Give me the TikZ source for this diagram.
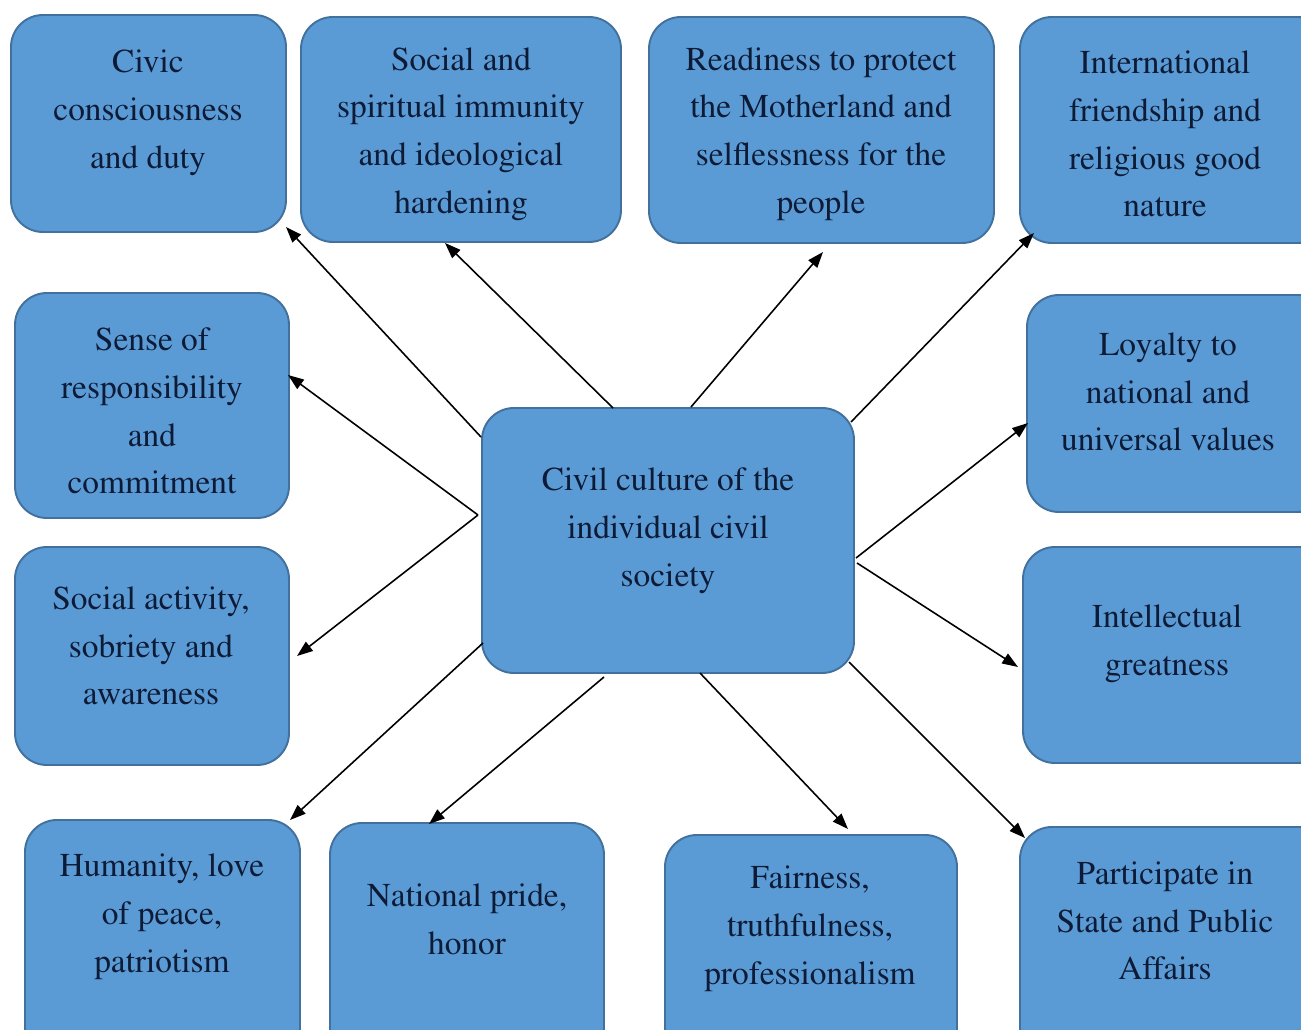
\documentclass[tikz,border=0pt]{standalone}
\usepackage[T1]{fontenc}
\usepackage{mathptmx}
\usetikzlibrary{fit,arrows.meta}
\definecolor{boxfill}{HTML}{5B9BD5}
\definecolor{boxline}{HTML}{41719C}
\definecolor{txt}{HTML}{0E1B36}
\tikzset{
  box/.style={draw=boxline, fill=boxfill, line width=1.1pt, rounded corners=0.64cm, inner sep=0pt},
  lbl/.style={text=txt, align=center, font=\rmfamily\fontsize{19}{27.2}\selectfont, inner sep=0pt},
  arr/.style={line width=0.9pt, -{Triangle[length=9pt,width=6.5pt]}}
}
\begin{document}
\begin{tikzpicture}[x=0.02cm,y=-0.02cm]
\useasboundingbox (0,0) rectangle (1301,1030);
\clip (0,0) rectangle (1301,1030);
\fill[white] (0,0) rectangle (1301,1030);
% boxes
\node[box, fit={(11,15)(286,232)}] (b1) {};
\node[box, fit={(301,17)(621,242)}] (b2) {};
\node[box, fit={(649,17)(994,243)}] (b3) {};
\node[box, fit={(1020,17)(1330,243)}] (b4) {};
\node[box, fit={(15,293)(289,518)}] (b5) {};
\node[box, fit={(1027,295)(1330,512)}] (b6) {};
\node[box, fit={(15,547)(289,765)}] (b7) {};
\node[box, fit={(1023,547)(1330,763)}] (b8) {};
\node[box, fit={(25,820)(300,1070)}] (b9) {};
\node[box, fit={(330,823)(604,1070)}] (b10) {};
\node[box, fit={(665,835)(957,1070)}] (b11) {};
\node[box, fit={(1020,827)(1330,1070)}] (b12) {};
\node[box, fit={(482,408)(854,673)}] (c) {};
% texts
\node[lbl] (t1) at (148,113) {Civic\\consciousness\\and duty};
\node[lbl] (t2) at (461,134) {Social and\\spiritual immunity\\and ideological\\hardening};
\node[lbl] (t3) at (821,134) {Readiness to protect\\the Motherland and\\selflessness for the\\people};
\node[lbl] (t4) at (1165,134) {International\\friendship and\\religious good\\nature};
\node[lbl] (t5) at (152,411) {Sense of\\responsibility\\and\\commitment};
\node[lbl] (t6) at (1168,392) {Loyalty to\\national and\\universal values};
\node[lbl] (t7) at (151,646) {Social activity,\\sobriety and\\awareness};
\node[lbl] (t8) at (1167,644) {Intellectual\\greatness};
\node[lbl] (t9) at (162,917) {Humanity, love\\of peace,\\patriotism};
\node[lbl] (t10) at (467,919) {National pride,\\honor};
\node[lbl] (t11) at (810,929) {Fairness,\\truthfulness,\\professionalism};
\node[lbl] (t12) at (1165,921) {Participate in\\State and Public\\Affairs};
\node[lbl] (tc) at (668,531) {Civil culture of the\\individual civil\\society};
% arrow endpoints
\coordinate (s1) at (481,437);  \coordinate (e1) at (286,227);
\coordinate (s2) at (613,408);  \coordinate (e2) at (445,243);
\coordinate (s3) at (691,407);  \coordinate (e3) at (823,252);
\coordinate (s4) at (851,422);  \coordinate (e4) at (1034,233);
\coordinate (s5) at (478,515);  \coordinate (e5) at (288,375);
\coordinate (s6) at (856,558);  \coordinate (e6) at (1028,423);
\coordinate (s7) at (478,515);  \coordinate (e7) at (297,656);
\coordinate (s8) at (857,563);  \coordinate (e8) at (1018,667);
\coordinate (s9) at (483,643);  \coordinate (e9) at (290,820);
\coordinate (s10) at (604,677); \coordinate (e10) at (429,824);
\coordinate (s11) at (700,673); \coordinate (e11) at (848,829);
\coordinate (s12) at (849,662); \coordinate (e12) at (1025,838);
\foreach \i in {1,...,12}{\draw[arr] (s\i) -- (e\i);}
\end{tikzpicture}
\end{document}
